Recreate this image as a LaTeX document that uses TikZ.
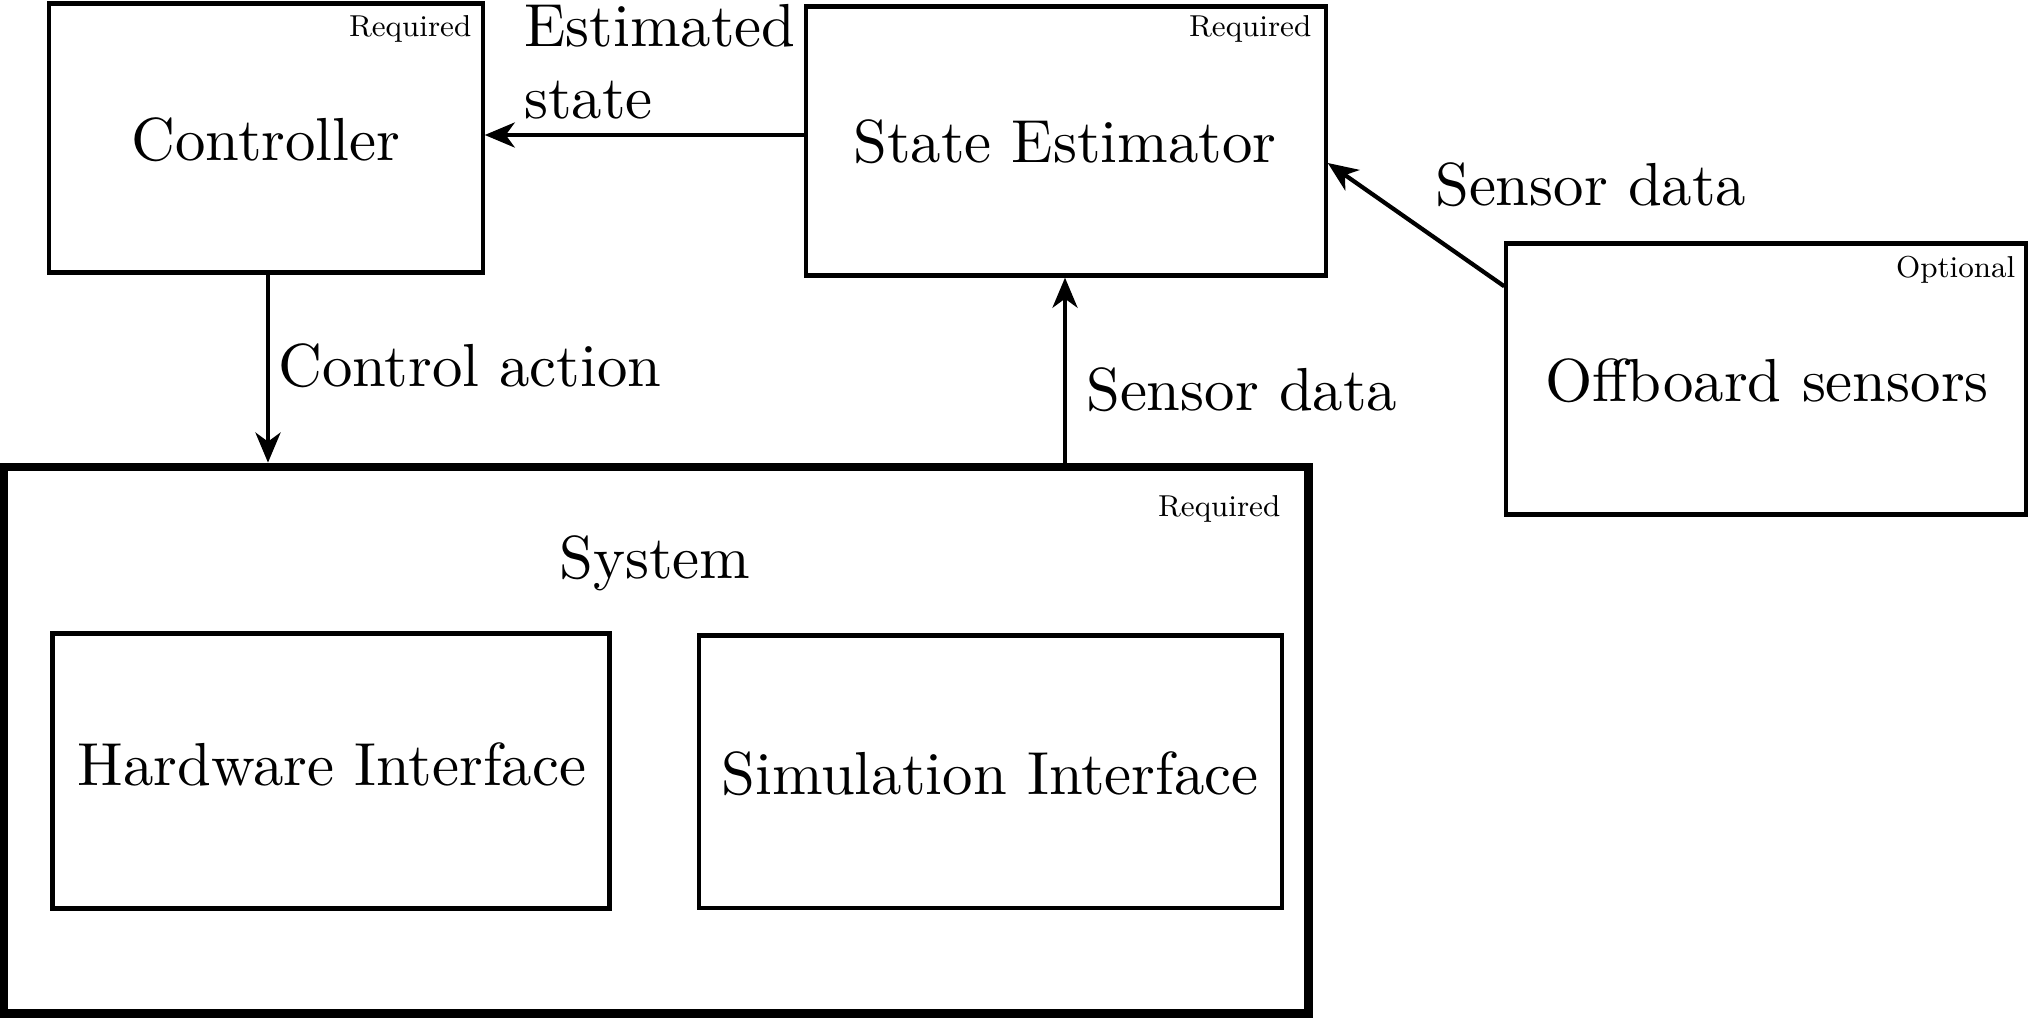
\documentclass[tikz,border=0pt]{standalone}
\usetikzlibrary{arrows.meta,calc}
\begin{document}
\begin{tikzpicture}[x=0.01cm,y=-0.01cm,
  box/.style={draw, line width=1.2pt, inner sep=0pt},
  sysbox/.style={draw, line width=2.4pt, inner sep=0pt},
  big/.style={inner sep=0pt, scale=1.728, font=\fontsize{10}{11.7}\selectfont},
  tag/.style={inner sep=0pt, anchor=base east, font=\fontsize{8.6}{10}\selectfont},
  arr/.style={-{Stealth[length=0.30cm,width=0.25cm,inset=0.09cm]}, line width=1.2pt}]
\useasboundingbox (0,0) rectangle (2030,1018);
% boxes
\node[box, minimum width=4.33cm, minimum height=2.69cm] (ctrl) at (266,138) {};
\node[box, minimum width=5.19cm, minimum height=2.69cm] (se) at (1066,141) {};
\node[box, minimum width=5.195cm, minimum height=2.71cm] (off) at (1766.25,379) {};
\node[sysbox, minimum width=13.04cm, minimum height=5.465cm] (sys) at (656,740.25) {};
\node[box, minimum width=5.565cm, minimum height=2.75cm] (hw) at (331,771) {};
\node[box, minimum width=5.825cm, minimum height=2.725cm] (sim) at (990.25,771.75) {};
% main texts
\node[big, anchor=base] (tctrl) at (266,160) {Controller};
\node[big, anchor=base] (tse) at (1065,162) {State Estimator};
\node[big, anchor=base] (toff) at (1767,401) {Offboard sensors};
\node[big, anchor=base] (tsys) at (655,578) {System};
\node[big, anchor=base] (thw) at (332,785) {Hardware Interface};
\node[big, anchor=base] (tsim) at (990,794) {Simulation Interface};
% tags
\node[tag] (rq1) at (472,37) {Required};
\node[tag] (rq2) at (1312,37) {Required};
\node[tag] (opt) at (2016,277) {Optional};
\node[tag] (rq3) at (1281,516) {Required};
% connectors
\draw[arr] ($(se.west)+(0,-6)$) -- ($(ctrl.east)+(0,-3)$);
\draw[arr] ($(ctrl.south)+(2,0)$) -- ($(ctrl.south |- sys.north)+(2,0)$);
\draw[arr] ($(se.south |- sys.north)+(-1,0)$) -- ($(se.south)+(-1,0)$);
\draw[arr] ($(off.north west)+(0,45)$) -- ($(se.east)+(0,22)$);
% edge labels
\node[big, anchor=base west] (lest) at (523,46) {Estimated};
\node[big, anchor=base west] (lstate) at (523,118) {state};
\node[big, anchor=base west] (lca) at (277,386) {Control action};
\node[big, anchor=base west] (lsd1) at (1085,410) {Sensor data};
\node[big, anchor=base west] (lsd2) at (1434,205) {Sensor data};
\end{tikzpicture}
\end{document}
